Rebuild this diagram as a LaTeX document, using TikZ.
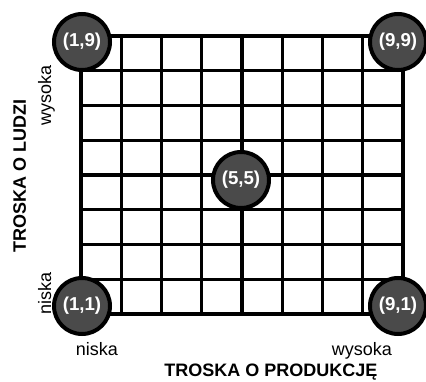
\documentclass[tikz,border=0pt]{standalone}
\usepackage{fontspec}
\setmainfont{Liberation Sans}
\usetikzlibrary{positioning}
\definecolor{Ink}{RGB}{0,0,0}
\definecolor{DotGray}{RGB}{74,74,74}
\tikzset{
  gridline/.style={draw=Ink,line width=2.3pt},
  frame/.style={draw=Ink,line width=3.6pt},
  point/.style={circle,draw=Ink,line width=3pt,fill=DotGray,text=white,font=\fontsize{14}{16}\selectfont\bfseries,minimum size=42pt,inner sep=0pt},
  level/.style={font=\fontsize{13.5}{15}\selectfont,text=Ink,inner sep=0pt,anchor=base},
  axis/.style={font=\fontsize{13.5}{15}\selectfont\bfseries,text=Ink,inner sep=0pt,anchor=base}
}
\begin{document}
\begin{tikzpicture}[x=0.75pt,y=-0.75pt]
  \useasboundingbox[fill=white] (0,0) rectangle (426,382);
  % grid
  \foreach \i in {1,...,7}{
    \draw[gridline] ({81+\i*40.25},36)--({81+\i*40.25},314);
    \draw[gridline] (81,{36+\i*34.75})--(403,{36+\i*34.75});
  }
  \draw[frame] (81,36) rectangle (403,314);
  % points
  \node[point] (p19) at (82,42) {(1,9)};
  \node[point] (p99) at (398,42) {(9,9)};
  \node[point] (p55) at (241,180) {(5,5)};
  \node[point] (p11) at (82,306) {(1,1)};
  \node[point] (p91) at (398,306) {(9,1)};
  % axes
  \node[level,rotate=90] (yhigh) at (51,95) {wysoka};
  \node[level,rotate=90] (ylow) at (51,293) {niska};
  \node[axis,rotate=90] (ytitle) at (26,176) {TROSKA O LUDZI};
  \node[level] (xlow) at (97,355) {niska};
  \node[level] (xhigh) at (362,355) {wysoka};
  \node[axis] (xtitle) at (271,376) {TROSKA O PRODUKCJĘ};
\end{tikzpicture}
\end{document}
